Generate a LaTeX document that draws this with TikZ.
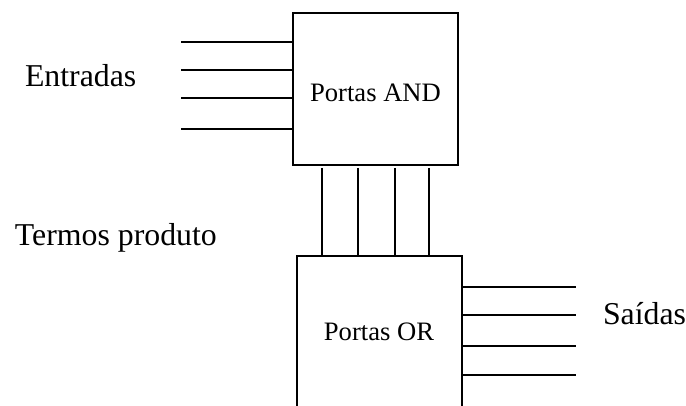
\documentclass[tikz,border=0pt]{standalone}
\usepackage{fontspec}
\setmainfont{Liberation Serif}
\usetikzlibrary{positioning}

\begin{document}
\begin{tikzpicture}[x=1pt, y=-1pt, line width=2pt, node distance=243pt,
    block/.style={draw, rectangle, minimum width=165pt, minimum height=152pt, inner sep=0pt, font=\fontsize{26.6}{30}\selectfont},
    lbl/.style={anchor=base west, inner sep=0pt, font=\fontsize{31.8}{36}\selectfont}]
        \useasboundingbox (0,0) rectangle (686,406);
        \clip (0,0) rectangle (686,406);
        % Nodes
        \node (and) [block] at (375.5,89) {\raisebox{-3.5pt}[\height][0pt]{Portas AND}};
        \node (or) [block, below of=and, xshift=3.5pt] {Portas OR};
        \node (entradas) [lbl] at (24,86.7) {Entradas};
        \node (termos) [lbl] at (14,246) {Termos produto};
        \node (saidas) [lbl] at (602,325) {Saídas};

        % Edges
        \foreach \y [count=\i] in {41.7,70,98,129} {
            \coordinate (in\i) at (181,\y);
            \draw (in\i) -- (in\i -| and.west);
        }
        \foreach \x in {322,358,395,429}
            \draw[shorten <=2pt] (and.south -| \x,0) -- (or.north -| \x,0);
        \foreach \y [count=\i] in {287,315,346,375} {
            \coordinate (out\i) at (576,\y);
            \draw (or.east |- out\i) -- (out\i);
        }
    \end{tikzpicture}
\end{document}
